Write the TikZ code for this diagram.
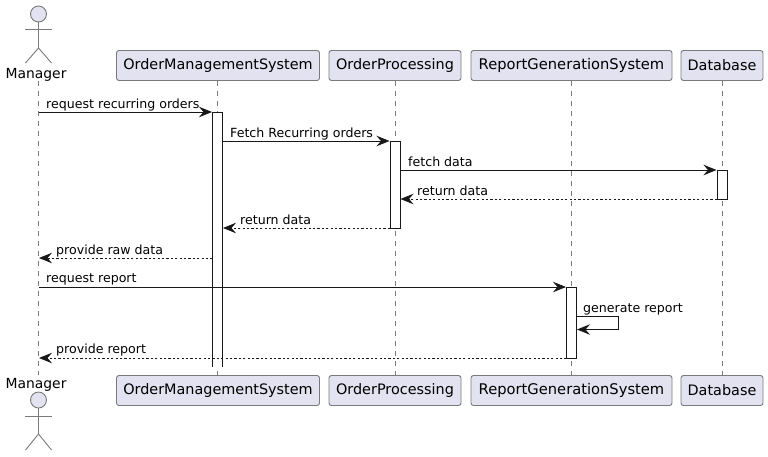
\documentclass[tikz,border=0pt]{standalone}
\usepackage{fontspec}
\setmainfont{DejaVu Sans}
\usetikzlibrary{arrows.meta}
\definecolor{boxfill}{HTML}{E2E2F0}
\definecolor{boxline}{HTML}{7A7A7A}
\definecolor{msgline}{HTML}{181818}
\tikzset{part/.style={rectangle,rounded corners=2.5pt,draw=boxline,fill=boxfill,line width=0.9pt,minimum height=30pt,inner sep=0pt,font=\fontsize{14.4}{16}\selectfont}}
\tikzset{wide/.style={part,font=\fontsize{14.7}{16}\selectfont}}
\tikzset{head/.style={circle,draw=boxline,fill=boxfill,line width=0.9pt,minimum size=16pt,inner sep=0pt}}
\tikzset{who/.style={inner sep=0pt,font=\fontsize{13.9}{16}\selectfont}}
\tikzset{bar/.style={rectangle,draw=msgline,fill=white,line width=0.9pt,minimum width=10pt,inner sep=0pt}}
\tikzset{life/.style={draw=boxline,line width=0.8pt,dash pattern=on 5pt off 5pt}}
\tikzset{limb/.style={draw=boxline,line width=0.9pt}}
\tikzset{msg/.style={draw=msgline,line width=0.9pt,-{Stealth[length=13pt,width=10.5pt,inset=4.5pt]}}}
\tikzset{back/.style={msg,dash pattern=on 2.2pt off 2.2pt}}
\tikzset{lbl/.style={anchor=base west,inner sep=0pt,font=\fontsize{12.6}{15}\selectfont}}
\begin{document}
\begin{tikzpicture}[x=1pt,y=-1pt]
\useasboundingbox (0,0) rectangle (768,456);
\node[who](mgrtop) at (36,74.5) {Manager};
\node[who](mgrbot) at (36,384.5) {Manager};
\node[part,minimum width=203pt](omstop) at (218,65.5) {OrderManagementSystem};
\node[part,minimum width=132pt](optop) at (395,65.5) {OrderProcessing};
\node[wide,minimum width=201pt](rgstop) at (571.5,65.5) {ReportGenerationSystem};
\node[part,minimum width=82pt](dbtop) at (722,65.5) {Database};
\node[part,minimum width=203pt](omsbot) at (218,390.5) {OrderManagementSystem};
\node[part,minimum width=132pt](opbot) at (395,390.5) {OrderProcessing};
\node[wide,minimum width=201pt](rgsbot) at (571.5,390.5) {ReportGenerationSystem};
\node[part,minimum width=82pt](dbbot) at (722,390.5) {Database};

% actor, top and bottom
\node[head](headtop) at (38.5,14) {};
\node[head](headbot) at (38.5,400) {};
\coordinate (hiptop) at (38.5,48);
\coordinate (hipbot) at (38.5,434);
\coordinate (armtopl) at (25,29);
\coordinate (armtopr) at (52,29);
\coordinate (legtopl) at (25.5,63);
\coordinate (legtopr) at (51.5,63);
\coordinate (armbotl) at (25,416);
\coordinate (armbotr) at (52,416);
\coordinate (legbotl) at (25.5,450);
\coordinate (legbotr) at (51.5,450);
\draw[limb] (headtop) -- (hiptop);
\draw[limb] (armtopl) -- (armtopr);
\draw[limb] (legtopl) -- (hiptop) -- (legtopr);
\draw[limb] (headbot) -- (hipbot);
\draw[limb] (armbotl) -- (armbotr);
\draw[limb] (legbotl) -- (hipbot) -- (legbotr);

% lifelines
\coordinate (mgrlife1) at (38.5,81);
\coordinate (mgrlife2) at (38.5,375);
\coordinate (omslife1) at (217.5,80.5);
\coordinate (omslife2) at (217.5,375.5);
\draw[life] (mgrlife1) -- (mgrlife2);
\draw[life] (omslife1) -- (omslife2);
\draw[life] (optop.south) -- (opbot.north);
\draw[life] (rgstop.south) -- (rgsbot.north);
\draw[life] (dbtop.south) -- (dbbot.north);

% activations
\coordinate (bar1) at (212.5,112.5);
\coordinate (bar2) at (222.5,112.5);
\coordinate (bar3) at (212.5,367);
\coordinate (bar4) at (222.5,367);
\fill[white] (bar1) rectangle (bar4);
\draw[draw=msgline,line width=0.9pt] (bar3) -- (bar1) -- (bar2) -- (bar4);
\node[bar,minimum height=87pt](opact) at (395,184.5) {};
\node[bar,minimum height=29pt](dbact) at (722,184.5) {};
\node[bar,minimum height=71pt](rgsact) at (571.5,322.5) {};

% messages
\coordinate (m1a) at (38.5,112);
\coordinate (m1b) at (212,112);
\coordinate (m2a) at (222.5,141);
\coordinate (m2b) at (389.5,141);
\coordinate (m3a) at (400,170);
\coordinate (m3b) at (716.5,170);
\coordinate (m4a) at (717,199);
\coordinate (m4b) at (400.5,199);
\coordinate (m5a) at (390,228);
\coordinate (m5b) at (223,228);
\coordinate (m6a) at (212.5,258);
\coordinate (m6b) at (39,258);
\coordinate (m7a) at (38.5,287);
\coordinate (m7b) at (566,287);
\coordinate (m8a) at (576.5,316.5);
\coordinate (m8b) at (618.5,316.5);
\coordinate (m8c) at (618.5,329.5);
\coordinate (m8d) at (577,329.5);
\coordinate (m9a) at (566.5,358);
\coordinate (m9b) at (39,358);
\draw[msg] (m1a) -- (m1b);
\draw[msg] (m2a) -- (m2b);
\draw[msg] (m3a) -- (m3b);
\draw[back] (m4a) -- (m4b);
\draw[back] (m5a) -- (m5b);
\draw[back] (m6a) -- (m6b);
\draw[msg] (m7a) -- (m7b);
\draw[msg] (m8a) -- (m8b) -- (m8c) -- (m8d);
\draw[back] (m9a) -- (m9b);

\node[lbl](t1) at (46,108) {request recurring orders};
\node[lbl](t2) at (230,137) {Fetch Recurring orders};
\node[lbl](t3) at (408,166) {fetch data};
\node[lbl](t4) at (417,195) {return data};
\node[lbl](t5) at (240,224) {return data};
\node[lbl](t6) at (56,254) {provide raw data};
\node[lbl](t7) at (46,282) {request report};
\node[lbl](t8) at (583,312) {generate report};
\node[lbl](t9) at (56,353) {provide report};
\end{tikzpicture}
\end{document}
